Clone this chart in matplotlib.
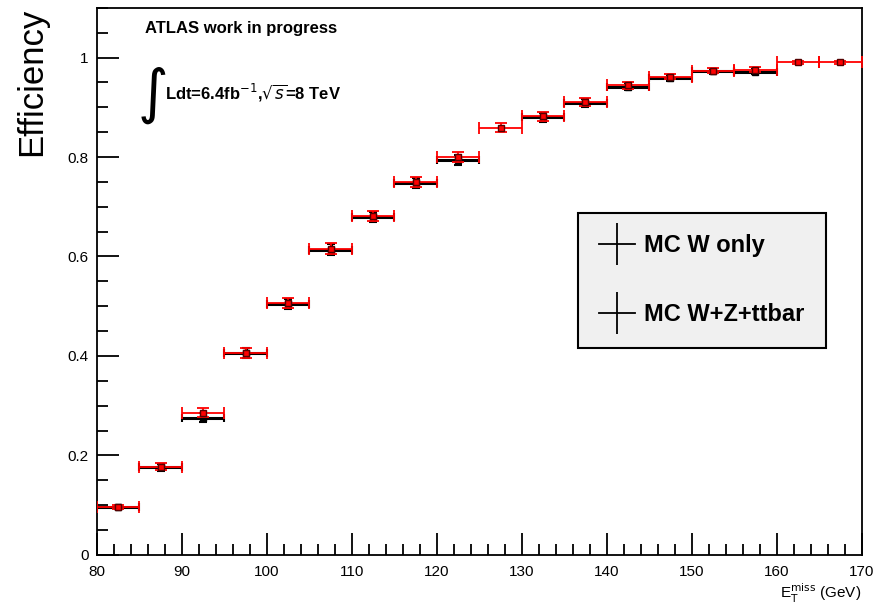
import numpy as np
import matplotlib.pyplot as plt
from matplotlib.ticker import MultipleLocator
from matplotlib.lines import Line2D

plt.rcParams['font.family'] = ['Liberation Sans', 'DejaVu Sans']

# bin centres of missing ET (GeV), 5 GeV wide
met_bins = [82.5, 87.5, 92.5, 97.5, 102.5, 107.5, 112.5, 117.5, 122.5,
            127.5, 132.5, 137.5, 142.5, 147.5, 152.5, 157.5, 162.5, 167.5]
bin_halfwidth = 2.5

eff_w_only = [0.097, 0.176, 0.276, 0.405, 0.505, 0.614, 0.680, 0.747, 0.795,
              np.nan, 0.880, 0.909, 0.941, 0.959, 0.973, 0.972, np.nan, np.nan]
err_w_only = [0.004, 0.007, 0.009, 0.010, 0.010, 0.011, 0.010, 0.010, 0.010,
              0.0, 0.009, 0.008, 0.007, 0.006, 0.005, 0.005, 0.0, 0.0]

eff_wzt = [0.097, 0.177, 0.286, 0.406, 0.507, 0.616, 0.682, 0.749, 0.800,
           0.859, 0.882, 0.911, 0.944, 0.962, 0.974, 0.976, 0.991, 0.991]
err_wzt = [0.004, 0.007, 0.009, 0.010, 0.010, 0.011, 0.010, 0.010, 0.010,
           0.009, 0.009, 0.008, 0.007, 0.006, 0.005, 0.005, 0.003, 0.003]

fig = plt.figure(figsize=(8.73, 6.07), dpi=100)
ax = fig.add_axes([0.111, 0.086, 0.876, 0.901])

# black: W only
ax.errorbar(met_bins, eff_w_only, xerr=bin_halfwidth, yerr=err_w_only,
            fmt='s', color='black', ms=5, elinewidth=2.2, capsize=3,
            capthick=1.5, zorder=2)
# red: W+Z+ttbar
ax.errorbar(met_bins, eff_wzt, xerr=bin_halfwidth, yerr=err_wzt,
            fmt='s', color='red', mec='#550000', ms=5, elinewidth=1.3,
            capsize=4, capthick=1.3, zorder=3)

ax.set_xlim(80, 170)
ax.set_ylim(0, 1.1)
ax.xaxis.set_major_locator(MultipleLocator(10))
ax.xaxis.set_minor_locator(MultipleLocator(2))
ax.yaxis.set_major_locator(MultipleLocator(0.2))
ax.yaxis.set_minor_locator(MultipleLocator(0.05))
ax.set_yticks([0, 0.2, 0.4, 0.6, 0.8, 1])
ax.set_yticklabels(['0', '0.2', '0.4', '0.6', '0.8', '1'])
ax.tick_params(which='both', direction='in', top=False, right=False,
               labelsize=11, width=1.3)
ax.tick_params(which='major', length=16)
ax.tick_params(which='minor', length=8)
ax.tick_params(axis='x', pad=7)
ax.tick_params(axis='y', pad=6)
for sp in ax.spines.values():
    sp.set_linewidth(1.3)

ax.set_ylabel('Efficiency', fontsize=25, loc='top', labelpad=14)
ax.text(1.0, -0.05, r'E$_\mathrm{T}^\mathrm{miss}$ (GeV)', transform=ax.transAxes,
        ha='right', va='top', fontsize=11)

ax.text(0.063, 0.955, 'ATLAS work in progress', transform=ax.transAxes,
        fontsize=12, fontweight='bold')
ax.text(0.052, 0.81, r'$\int$', transform=ax.transAxes, fontsize=30)
ax.text(0.089, 0.832, r'Ldt=6.4fb$^{-1}$,$\sqrt{s}$=8 TeV', transform=ax.transAxes,
        fontsize=12, fontweight='bold')

handles = [Line2D([], [], color='black', marker='|', ms=30, lw=1.3,
                  mew=1.3),
           Line2D([], [], color='black', marker='|', ms=30, lw=1.3,
                  mew=1.3)]
leg = ax.legend(handles, ['MC W only', 'MC W+Z+ttbar'],
                loc='upper left', bbox_to_anchor=(0.629, 0.625),
                prop={'weight': 'bold', 'size': 17}, fancybox=False,
                edgecolor='black', facecolor='#f0f0f0', framealpha=1,
                handlelength=1.5, labelspacing=1.95, borderpad=0.9,
                handletextpad=0.4, borderaxespad=0)
leg.get_frame().set_linewidth(1.5)

fig.savefig('out.png', dpi=100)
